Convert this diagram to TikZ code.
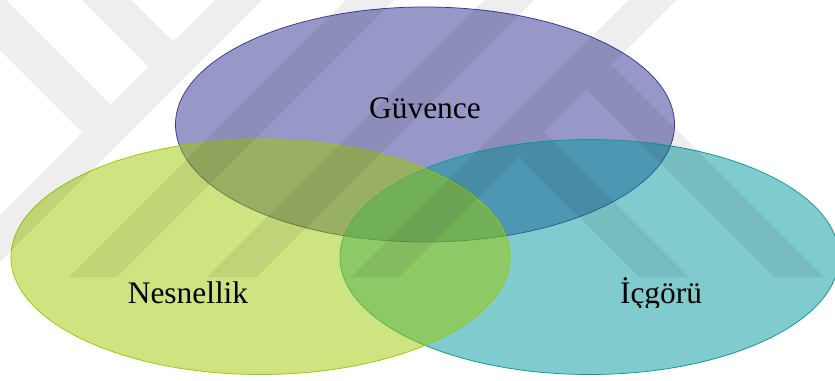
\documentclass[tikz,border=0pt]{standalone}
\usepackage{fontspec}
\setmainfont{Liberation Serif}
\usetikzlibrary{shapes.geometric}
\definecolor{guvfill}{HTML}{313191}
\definecolor{guvline}{HTML}{35359A}
\definecolor{nesfill}{HTML}{9BC901}
\definecolor{nesline}{HTML}{9BC901}
\definecolor{icgfill}{HTML}{01979B}
\definecolor{icgline}{HTML}{0A9A9C}
\begin{document}
\begin{tikzpicture}[x=1bp,y=-1bp,
  venn/.style={ellipse, minimum width=499bp, minimum height=235bp,
    inner sep=0pt, fill opacity=0.5, line width=0.75bp},
  lbl/.style={anchor=base, font=\fontsize{31.5}{36}\selectfont, text=black},
  wmark/.style={fill=black}]
\useasboundingbox (0,0) rectangle (835,380);

% three overlapping sets
\node[venn, draw=guvline, fill=guvfill] (guv) at (425,124.5) {};
\node[venn, draw=icgline, fill=icgfill] (icg) at (589.5,257) {};
\node[venn, draw=nesline, fill=nesfill] (nes) at (260.5,257) {};

% faint background logo bands, blended as one flat layer
\begin{scope}[transparency group, opacity=0.065]
  \clip (0,0) rectangle (835,277);
  % rising bars
  \fill[wmark] (215,0) -- (262,0) -- (-15,277) -- (-62,277) -- cycle;
  \fill[wmark] (346,0) -- (394,0) -- (117,277) -- (69,277) -- cycle;
  \fill[wmark] (484,0) -- (534,0) -- (257,277) -- (207,277) -- cycle;
  \fill[wmark] (628,0) -- (676,0) -- (399,277) -- (351,277) -- cycle;
  % falling bars on the upper left
  \fill[wmark] (0,0) -- (6,0) -- (110.5,104.5) -- (82.5,132.5) -- (0,50) -- cycle;
  \fill[wmark] (82,0) -- (132,0) -- (173.5,41.5) -- (148.5,66.5) -- cycle;
  % falling bars on the right
  \fill[wmark] (611.5,64.5) -- (824,277) -- (774,277) -- (586.5,89.5) -- cycle;
  \fill[wmark] (544,132) -- (689,277) -- (639,277) -- (519,157) -- cycle;
\end{scope}

% labels
\node[lbl] (tguv) at (425,118) {Güvence};
\node[lbl] (tnes) at (188,303) {Nesnellik};
\begin{scope}
  \clip (560,240) rectangle (760,307);
  \node[lbl] (ticg) at (661,303) {İçgörü};
\end{scope}
\end{tikzpicture}
\end{document}
